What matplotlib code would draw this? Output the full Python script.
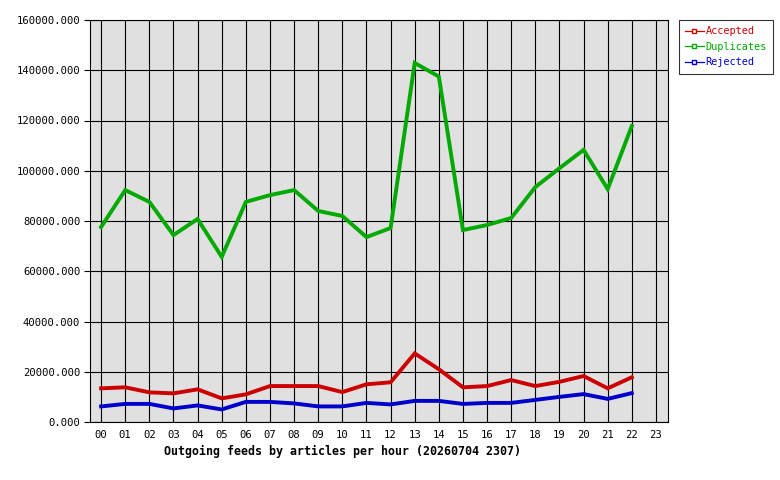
import numpy as np
import matplotlib.pyplot as plt
from matplotlib.lines import Line2D

hours = ["%02d" % h for h in range(24)]

accepted = [13400, 13800, 11800, 11400, 13000, 9400, 11000, 14300, 14300, 14300,
            11900, 15000, 15800, 27300, 21000, 13800, 14300, 16700, 14300, 16000,
            18300, 13400, 17800]
duplicates = [77600, 92300, 87600, 74400, 80800, 65700, 87600, 90300, 92300, 84000,
              82000, 73600, 77200, 142900, 137500, 76400, 78400, 81200, 93500, 101000,
              108300, 92700, 117800]
rejected = [6200, 7200, 7200, 5400, 6600, 5000, 8000, 8000, 7400, 6200,
            6200, 7600, 7000, 8400, 8400, 7200, 7600, 7600, 8800, 10000,
            11100, 9200, 11500]

names = ["Accepted", "Duplicates", "Rejected"]
colors = ["#cc0000", "#00aa00", "#0000cc"]

plt.rcParams['font.family'] = 'DejaVu Sans Mono'

fig = plt.figure(figsize=(7.8, 4.8), dpi=100)
ax = fig.add_axes([90/780, 58/480, 578/780, 402/480])
ax.set_facecolor("#e0e0e0")

x = np.arange(len(accepted))
for series, c in zip([accepted, duplicates, rejected], colors):
    ax.plot(x, series, color=c, lw=2.8, solid_joinstyle="miter")

ax.set_xlim(-0.46, 23.5)
ax.set_ylim(0, 160000)
ax.set_xticks(range(24))
ax.set_xticklabels(hours, fontsize=7.6)
yt = np.arange(0, 160001, 20000)
ax.set_yticks(yt)
ax.set_yticklabels(["%.3f" % v for v in yt], fontsize=7.6)
ax.grid(True, color="black", lw=0.8)
ax.set_axisbelow(True)
ax.tick_params(axis="x", length=0, pad=6)
ax.tick_params(axis="y", length=4, width=0.8, pad=3)
for s in ax.spines.values():
    s.set_linewidth(0.8)

fig.text(343/780, 1 - 451/480, "Outgoing feeds by articles per hour (20260704 2307)",
         ha="center", va="center", fontsize=8.4, fontweight="bold")

handles = [Line2D([], [], color=c, lw=0.9, marker="s", markersize=2.5,
                  markerfacecolor="white", markeredgecolor=c) for c in colors]
leg = fig.legend(handles, names, loc="upper left",
                 bbox_to_anchor=(679/780, 1 - 20/480), frameon=True, fancybox=False,
                 edgecolor="black", fontsize=7.4, handlelength=1.8, handletextpad=0.2,
                 borderpad=0.6, labelspacing=0.55, borderaxespad=0)
leg.get_frame().set_linewidth(0.8)
for t, c in zip(leg.get_texts(), colors):
    t.set_color(c)

fig.savefig("out.png", dpi=100)
